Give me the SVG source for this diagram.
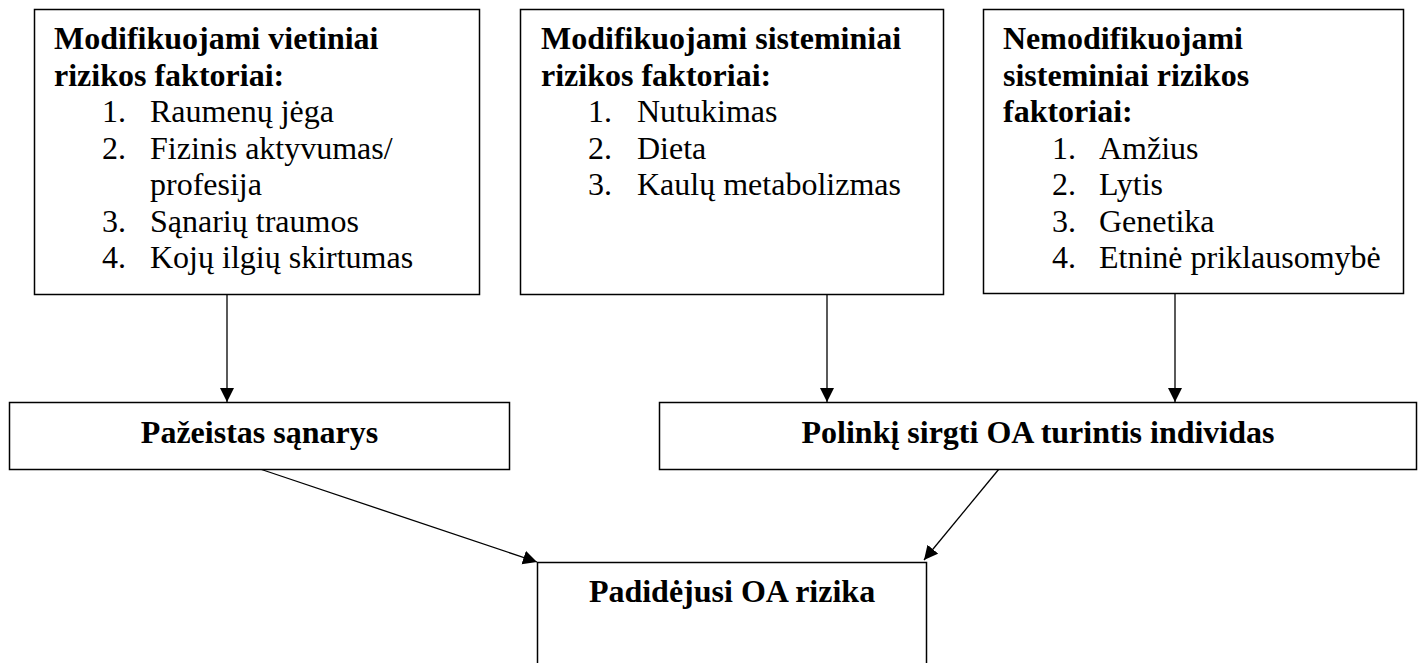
<svg xmlns="http://www.w3.org/2000/svg" width="1422" height="663" viewBox="0 0 1422 663">
<style>
.box{fill:#fff;stroke:#000;stroke-width:1.5}
.b{font-family:"Liberation Serif","Times New Roman",serif;font-size:32px;font-weight:bold;fill:#000}
.r{font-family:"Liberation Serif","Times New Roman",serif;font-size:32px;fill:#000}
.c{text-anchor:middle}
.ln{stroke:#000;stroke-width:1.3;fill:none}
</style>
<defs>
<marker id="ah" markerUnits="userSpaceOnUse" markerWidth="15" markerHeight="15" refX="14" refY="7" orient="auto">
<path d="M0,0 L14,7 L0,14 z" fill="#000"/>
</marker>
</defs>
<rect width="1422" height="663" fill="#fff"/>
<g id="connectors">
<line class="ln" x1="227" y1="294" x2="227" y2="402" marker-end="url(#ah)"/>
<line class="ln" x1="827" y1="294" x2="827" y2="402" marker-end="url(#ah)"/>
<line class="ln" x1="1175" y1="294" x2="1175" y2="402" marker-end="url(#ah)"/>
<line class="ln" x1="260" y1="469" x2="537" y2="562" marker-end="url(#ah)"/>
<line class="ln" x1="999" y1="469" x2="924" y2="560" marker-end="url(#ah)"/>
</g>
<g id="node-local">
<rect class="box" x="34.5" y="9.5" width="445" height="285"/>
<text class="b" x="54" y="49">Modifikuojami vietiniai</text>
<text class="b" x="54" y="85.5">rizikos faktoriai:</text>
<text class="r" x="102" y="122">1.</text><text class="r" x="150" y="122">Raumenų jėga</text>
<text class="r" x="102" y="158.5">2.</text><text class="r" x="150" y="158.5">Fizinis aktyvumas/</text>
<text class="r" x="150" y="195">profesija</text>
<text class="r" x="102" y="231.5">3.</text><text class="r" x="150" y="231.5">Sąnarių traumos</text>
<text class="r" x="102" y="268">4.</text><text class="r" x="150" y="268">Kojų ilgių skirtumas</text>
</g>
<g id="node-systemic">
<rect class="box" x="520.5" y="9.5" width="423" height="285"/>
<text class="b" x="541" y="49">Modifikuojami sisteminiai</text>
<text class="b" x="541" y="85.5">rizikos faktoriai:</text>
<text class="r" x="588" y="122">1.</text><text class="r" x="637" y="122">Nutukimas</text>
<text class="r" x="588" y="158.5">2.</text><text class="r" x="637" y="158.5">Dieta</text>
<text class="r" x="588" y="195">3.</text><text class="r" x="637" y="195">Kaulų metabolizmas</text>
</g>
<g id="node-nonmod">
<rect class="box" x="983.5" y="9.5" width="420" height="284"/>
<text class="b" x="1003" y="49">Nemodifikuojami</text>
<text class="b" x="1003" y="85.5">sisteminiai rizikos</text>
<text class="b" x="1003" y="122">faktoriai:</text>
<text class="r" x="1052" y="158.5">1.</text><text class="r" x="1099" y="158.5">Amžius</text>
<text class="r" x="1052" y="195">2.</text><text class="r" x="1099" y="195">Lytis</text>
<text class="r" x="1052" y="231.5">3.</text><text class="r" x="1099" y="231.5">Genetika</text>
<text class="r" x="1052" y="268">4.</text><text class="r" x="1099" y="268">Etninė priklausomybė</text>
</g>
<g id="node-joint">
<rect class="box" x="9.5" y="402.5" width="500" height="67"/>
<text class="b c" x="259.5" y="443">Pažeistas sąnarys</text>
</g>
<g id="node-individual">
<rect class="box" x="659.5" y="402.5" width="757" height="67"/>
<text class="b c" x="1038" y="443">Polinkį sirgti OA turintis individas</text>
</g>
<g id="node-risk">
<rect class="box" x="537.5" y="562.5" width="389" height="120"/>
<text class="b c" x="732" y="602">Padidėjusi OA rizika</text>
</g>
</svg>
